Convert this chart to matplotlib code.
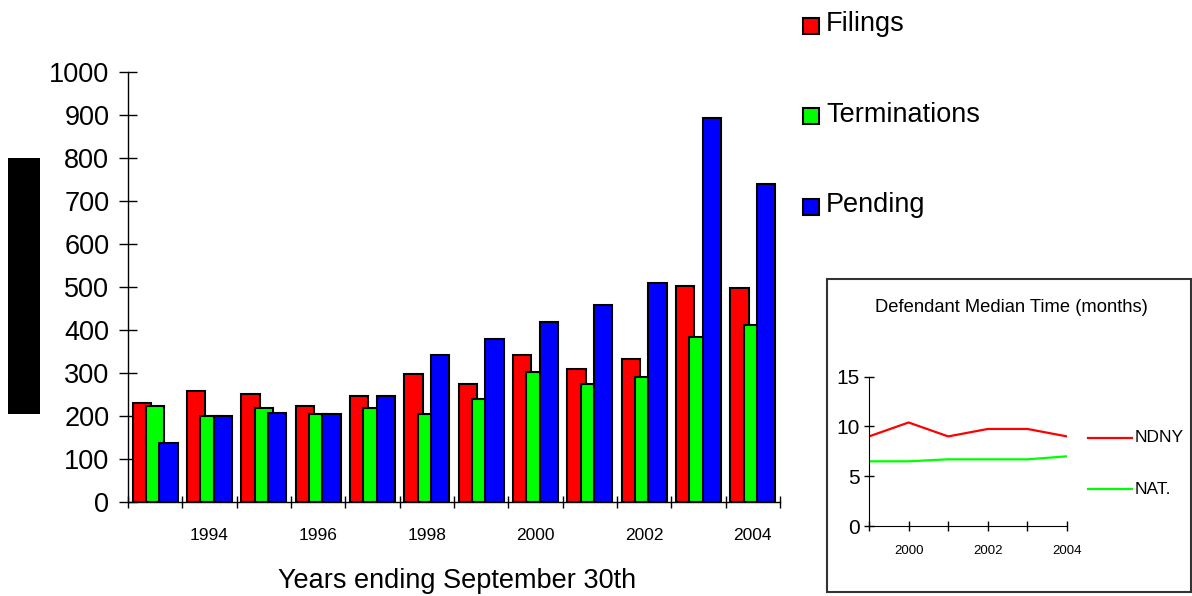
import matplotlib.pyplot as plt
import numpy as np
from matplotlib.patches import Rectangle

plt.rcParams['font.family'] = ['Liberation Sans', 'DejaVu Sans']

years = [1993, 1994, 1995, 1996, 1997, 1998, 1999, 2000, 2001, 2002, 2003, 2004]
filings = [230, 258, 252, 223, 246, 298, 275, 343, 309, 332, 503, 498]
terminations = [223, 201, 218, 205, 218, 205, 240, 303, 274, 291, 384, 412]
pending = [138, 201, 206, 205, 246, 343, 378, 418, 458, 510, 893, 739]
series_names = ['Filings', 'Terminations', 'Pending']
series_colors = ['#ff0000', '#00ff00', '#0000ff']
year_labels = [1994, 1996, 1998, 2000, 2002, 2004]

inset_years = [1999, 2000, 2001, 2002, 2003, 2004]
ndny = [9.0, 10.4, 9.0, 9.75, 9.75, 9.0]
nat = [6.5, 6.5, 6.7, 6.7, 6.7, 7.0]
inset_labels = [2000, 2002, 2004]

W, H = 1192, 596
fig = plt.figure(figsize=(W / 100, H / 100), dpi=100)

# main bar chart
ax = fig.add_axes([128 / W, 1 - 502 / H, (780 - 128) / W, (502 - 72) / H])
x = np.array(years)
for k, (vals, col) in enumerate(zip([filings, terminations, pending], series_colors)):
    ax.bar(x + (k - 1) * 0.245, vals, width=0.34, color=col,
           edgecolor='black', linewidth=1.5, zorder=2 + k)

ax.set_xlim(years[0] - 0.5, years[-1] + 0.5)
ax.set_ylim(0, 1000)
ax.set_yticks(np.arange(0, 1001, 100))
ax.set_xticks(np.arange(years[0] - 0.5, years[-1] + 1, 1))
ax.set_xticklabels([])
ax.set_xticks(year_labels, minor=True)
ax.set_xticklabels([str(y) for y in year_labels], minor=True, fontsize=12.5)
ax.tick_params(axis='x', which='major', direction='inout', length=8, width=1)
ax.tick_params(axis='x', which='minor', length=0, pad=19)
ax.tick_params(axis='y', direction='inout', length=13, width=1, labelsize=19.5, pad=7)
for s in ['top', 'right']:
    ax.spines[s].set_visible(False)
for s in ['left', 'bottom']:
    ax.spines[s].set_linewidth(1)

fig.text(457 / W, 1 - 581 / H, 'Years ending September 30th',
         fontsize=19.5, ha='center', va='center')

# redacted y label block
fig.patches.append(Rectangle((8 / W, 1 - 414 / H), 32 / W, 256 / H,
                             transform=fig.transFigure, facecolor='black',
                             edgecolor='none'))

# legend
for k, (name, col) in enumerate(zip(series_names, series_colors)):
    cy = 26 + k * 90.5
    fig.patches.append(Rectangle((803 / W, 1 - (cy + 8) / H), 16 / W, 16 / H,
                                 transform=fig.transFigure, facecolor=col,
                                 edgecolor='black', linewidth=1.5))
    fig.text(826 / W, 1 - (cy - 2) / H, name, fontsize=19.5, ha='left', va='center')

# inset frame
fig.patches.append(Rectangle((827 / W, 1 - 591.7 / H), 363.7 / W, 312.7 / H,
                             transform=fig.transFigure, facecolor='none',
                             edgecolor='#333333', linewidth=1.5))
fig.text(1011 / W, 1 - 307 / H, 'Defendant Median Time (months)',
         fontsize=13.2, ha='center', va='center')

ax2 = fig.add_axes([869 / W, 1 - 526 / H, (1067 - 869) / W, (526 - 376.7) / H])
ax2.plot(inset_years, ndny, color='#ff0000', linewidth=1.6)
ax2.plot(inset_years, nat, color='#00ff00', linewidth=1.6)
ax2.set_xlim(inset_years[0], inset_years[-1])
ax2.set_ylim(0, 15)
ax2.set_yticks([0, 5, 10, 15])
ax2.set_xticks(inset_years)
ax2.set_xticklabels([str(y) if y in inset_labels else '' for y in inset_years])
ax2.tick_params(axis='x', direction='inout', length=7, width=1, labelsize=9.5, pad=10)
ax2.tick_params(axis='y', direction='inout', length=7, width=1, labelsize=15, pad=3)
for s in ['top', 'right']:
    ax2.spines[s].set_visible(False)

# inset legend
for yy, col, name in [(438, '#ff0000', 'NDNY'), (489, '#00ff00', 'NAT.')]:
    fig.lines.append(plt.Line2D([1088 / W, 1132 / W], [1 - yy / H, 1 - yy / H],
                                transform=fig.transFigure, color=col, linewidth=1.6))
    fig.text(1135 / W, 1 - yy / H, name, fontsize=12.5, ha='left', va='center')

fig.savefig('out.png', dpi=100)
